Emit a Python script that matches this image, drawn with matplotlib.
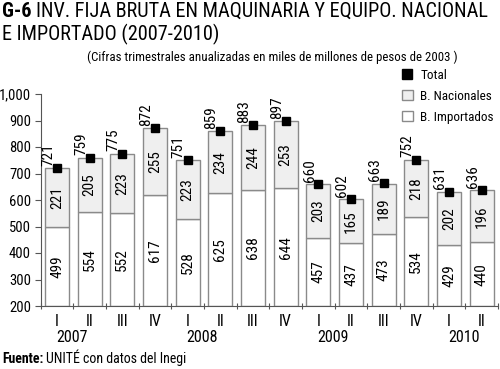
import matplotlib
matplotlib.use("Agg")
import matplotlib.pyplot as plt
from matplotlib.lines import Line2D
from matplotlib.patches import Patch
from matplotlib.transforms import blended_transform_factory, offset_copy
import numpy as np

plt.rcParams['font.family'] = ['Roboto Condensed', 'DejaVu Sans']

quarters = ["I", "II", "III", "IV", "I", "II", "III", "IV", "I", "II", "III", "IV", "I", "II"]
years = ["2007", "2008", "2009", "2010"]
year_start_idx = [0, 4, 8, 12]
importados = [499, 554, 552, 617, 528, 625, 638, 644, 457, 437, 473, 534, 429, 440]
nacionales = [221, 205, 223, 255, 223, 234, 244, 253, 203, 165, 189, 218, 202, 196]
total = [721, 759, 775, 872, 751, 859, 883, 897, 660, 602, 663, 752, 631, 636]
yticks = [200, 300, 400, 500, 600, 700, 800, 900, 1000]
ytick_labels = ["200", "300", "400", "500", "600", "700", "800", "900", "1,000"]

W, H = 500, 369
fig = plt.figure(figsize=(W/100, H/100), dpi=100)
ax = fig.add_axes([40.7/W, 1-306/H, (498-40.7)/W, (306-94)/H])

x = np.arange(len(quarters))
edge = "#8a8a8a"
ax.bar(x, np.array(importados) - 200, bottom=200, width=0.74, color="white", edgecolor=edge, linewidth=1.0)
ax.bar(x, nacionales, bottom=importados, width=0.74, color="#efefef", edgecolor=edge, linewidth=1.0)
ax.plot(x, total, linestyle="none", marker="s", markersize=6, color="black")

for i in range(len(x)):
    ax.text(x[i], 200 + (importados[i] - 200) / 2, str(importados[i]), rotation=90,
            ha="center", va="center", fontsize=11)
    ax.text(x[i], importados[i] + nacionales[i] / 2, str(nacionales[i]), rotation=90,
            ha="center", va="center", fontsize=11)
    ax.text(x[i] - 0.27, total[i] + 9, str(total[i]), rotation=90,
            ha="center", va="bottom", fontsize=11)

ax.set_xlim(-0.5, len(x) - 0.5)
ax.set_ylim(200, 1000)
ax.set_yticks(yticks)
ax.set_yticklabels(ytick_labels, fontsize=10.5)
ax.set_xticks(np.arange(-0.5, len(x) + 0.5, 1))
ax.set_xticklabels([])
ax.tick_params(axis="x", direction="inout", length=5, color="#555555")
ax.tick_params(axis="y", direction="out", length=4, color="#555555", pad=3)
for s in ["top", "right"]:
    ax.spines[s].set_visible(False)
ax.spines["left"].set_color("#555555")
ax.spines["bottom"].set_color("#555555")

tr = blended_transform_factory(ax.transData, ax.transAxes)
tr_q = offset_copy(tr, fig=fig, x=0, y=-16, units="dots")
tr_y = offset_copy(tr, fig=fig, x=-1, y=-32, units="dots")
for i, q in enumerate(quarters):
    ax.text(x[i], 0, q, ha="center", va="center", fontsize=11.5, transform=tr_q)
for y, idx in zip(years, year_start_idx):
    ax.text(idx, 0, y, ha="left", va="center", fontsize=11.5, transform=tr_y)

legend_handles = [
    Line2D([0], [0], marker="s", linestyle="none", color="black", markersize=7),
    Patch(facecolor="#efefef", edgecolor=edge),
    Patch(facecolor="white", edgecolor=edge),
]
fig.legend(legend_handles, ["Total", "B. Nacionales", "B. Importados"],
           loc="upper left", bbox_to_anchor=(402/W, 1-69/H), frameon=False,
           fontsize=9.5, handlelength=0.8, handleheight=0.8, handletextpad=0.6,
           labelspacing=0.6, borderpad=0.0, borderaxespad=0.0)

# Title
t1 = fig.text(2/W, 1-17/H, "G-6", fontsize=14.6, fontweight="bold", va="baseline", ha="left")
fig.canvas.draw()
bb = t1.get_window_extent()
fig.text((bb.x1 + 4)/W, 1-17/H, "INV. FIJA BRUTA EN MAQUINARIA Y EQUIPO. NACIONAL",
         fontsize=14.6, va="baseline", ha="left")
fig.text(2/W, 1-40/H, "E IMPORTADO (2007-2010)", fontsize=14.6, va="baseline", ha="left")
fig.text(87/W, 1-61/H, "(Cifras trimestrales anualizadas en miles de millones de pesos de 2003 )",
         fontsize=9.3, va="baseline", ha="left")

s1 = fig.text(2/W, 1-363/H, "Fuente:", fontsize=10, fontweight="bold", va="baseline", ha="left")
fig.canvas.draw()
bb = s1.get_window_extent()
fig.text((bb.x1 + 3)/W, 1-363/H, "UNITÉ con datos del Inegi", fontsize=10, va="baseline", ha="left")

fig.savefig("out.png", dpi=100)
